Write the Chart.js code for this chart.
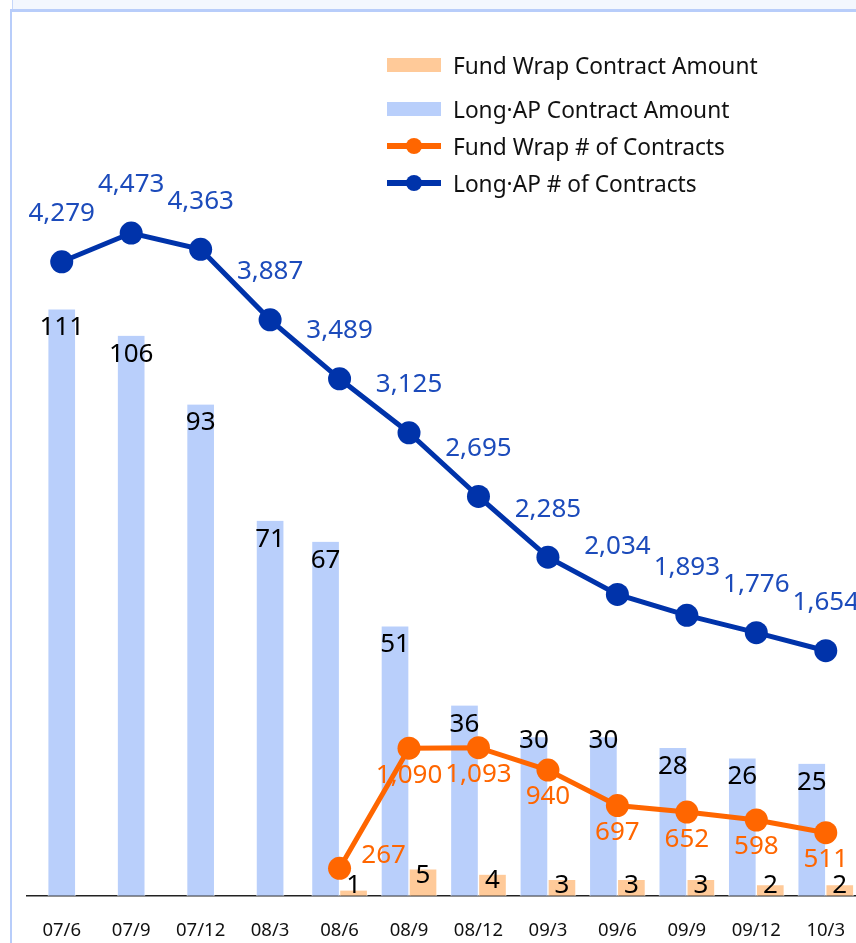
<!DOCTYPE html>
<html>
<head>
<meta charset="utf-8">
<script src="https://cdn.jsdelivr.net/npm/chart.js@4.4.1/dist/chart.umd.min.js"></script>
<style>
  html, body { margin: 0; padding: 0; background: #fff; overflow: hidden; }
  body { width: 856px; height: 943px; position: relative; font-family: "Noto Sans", sans-serif; }
  .band { position: absolute; left: 12px; top: 0; width: 844px; height: 9px; background: #f3f7fe; border-left: 1px solid #c6d7fb; }
  .frame { position: absolute; left: 10px; top: 9px; width: 846px; height: 934px; border-top: 3px solid #b8cdfa; border-left: 2px solid #b8cdfa; box-sizing: border-box; }
  .wrap { position: absolute; left: 0; top: 0; width: 872px; height: 968px; }
  #legend { position: absolute; left: 387px; top: 0; }
  .item { position: absolute; left: 0; height: 30px; width: 380px; display: flex; align-items: center; white-space: nowrap; font-size: 22.7px; color: #111; }
  .sw { position: relative; width: 54px; height: 30px; margin-right: 12px; flex: none; }
  .sw .bar { position: absolute; left: 0; right: 0; top: 8px; height: 14px; }
  .sw .ln { position: absolute; left: 0; right: 0; top: 12px; height: 6px; }
  .sw .pt { position: absolute; left: 19px; top: 7px; width: 16px; height: 16px; border-radius: 50%; }
</style>
</head>
<body>
<div class="band"></div>
<div class="frame"></div>
<div class="wrap"><canvas id="chart"></canvas></div>
<div id="legend"></div>
<script>
"use strict";

// quarters on the x axis
const periods = ['07/6', '07/9', '07/12', '08/3', '08/6', '08/9', '08/12', '09/3', '09/6', '09/9', '09/12', '10/3'];

// contract amounts (bars)
const longApAmount = [111, 106, 93, 71, 67, 51, 36, 30, 30, 28, 26, 25];
const fundWrapAmount = [null, null, null, null, 1, 5, 4, 3, 3, 3, 2, 2];

// number of contracts (lines)
const longApContracts = [4279, 4473, 4363, 3887, 3489, 3125, 2695, 2285, 2034, 1893, 1776, 1654];
const fundWrapContracts = [null, null, null, null, 267, 1090, 1093, 940, 697, 652, 598, 511];

const BLUE_LINE = '#0033aa';
const BLUE_TEXT = '#1c4bbb';
const ORANGE = '#ff6600';
const BLUE_BAR = '#b9cffb';
const ORANGE_BAR = '#ffca99';
const FONT = '"Noto Sans", sans-serif';

const fmt = v => v.toLocaleString('en-US');

// draws the value next to every bar and point
const valueLabels = {
  id: 'valueLabels',
  afterDatasetsDraw(chart) {
    const ctx = chart.ctx;
    const base = chart.chartArea.bottom;
    ctx.save();
    ctx.font = '26px ' + FONT;
    ctx.textAlign = 'center';
    ctx.textBaseline = 'alphabetic';
    chart.data.datasets.forEach((ds, i) => {
      const meta = chart.getDatasetMeta(i);
      const lab = ds.valueLabel;
      let first = true;
      meta.data.forEach((el, j) => {
        const v = ds.data[j];
        if (v === null || v === undefined) return;
        let x = el.x, cy;
        if (lab.where === 'inside') {
          cy = el.y + 16.5 - (lab.lift[j] || 0);
        } else if (lab.where === 'bartop') {
          cy = Math.min(el.y + 4, base - 12);
        } else if (lab.where === 'above') {
          cy = el.y - 50;
        } else {
          cy = el.y + 25;
          if (first) { x += 44; cy = el.y - 15; }
        }
        first = false;
        ctx.fillStyle = lab.color;
        ctx.fillText(fmt(v), x, cy + 9.4);
      });
    });
    ctx.restore();
  }
};

const chart = new Chart(document.getElementById('chart'), {
  data: {
    labels: periods,
    datasets: [
      {
        type: 'line', label: 'Fund Wrap # of Contracts', data: fundWrapContracts, yAxisID: 'yFund',
        borderColor: ORANGE, backgroundColor: ORANGE, borderWidth: 5, pointRadius: 11.5,
        pointBackgroundColor: ORANGE, pointBorderWidth: 0, order: 0,
        valueLabel: { where: 'below', color: ORANGE }
      },
      {
        type: 'line', label: 'Long·AP # of Contracts', data: longApContracts, yAxisID: 'yCount',
        borderColor: BLUE_LINE, backgroundColor: BLUE_LINE, borderWidth: 5, pointRadius: 11.5,
        pointBackgroundColor: BLUE_LINE, pointBorderWidth: 0, order: 0,
        valueLabel: { where: 'above', color: BLUE_TEXT }
      },
      {
        type: 'bar', label: 'Long·AP Contract Amount', data: longApAmount, yAxisID: 'yAmount',
        backgroundColor: BLUE_BAR, borderColor: '#ffffff', borderWidth: { left: 1, right: 1 },
        borderSkipped: 'start', order: 1,
        valueLabel: { where: 'inside', color: '#000', lift: { 7: 15, 8: 15 } }
      },
      {
        type: 'bar', label: 'Fund Wrap Contract Amount', data: fundWrapAmount, yAxisID: 'yAmount',
        backgroundColor: ORANGE_BAR, borderColor: '#ffffff', borderWidth: { left: 1, right: 1 },
        borderSkipped: 'start', order: 1,
        valueLabel: { where: 'bartop', color: '#000' }
      }
    ]
  },
  options: {
    responsive: true,
    maintainAspectRatio: false,
    animation: false,
    events: [],
    datasets: { bar: { skipNull: true, barThickness: 28 } },
    layout: { padding: { left: 27, right: 2, top: 180, bottom: 2 } },
    scales: {
      x: {
        grid: { display: false, drawTicks: false },
        border: { display: true, color: '#222', width: 1.5 },
        ticks: { color: '#111', padding: 24, font: { family: FONT, size: 18.5 } }
      },
      yAmount: { display: false, min: 0, max: 135.5 },
      yCount: { display: false, min: 0, max: 4831 },
      yFund: { display: false, min: 79, max: 4980 }
    },
    plugins: {
      legend: { display: false },
      tooltip: { enabled: false }
    }
  },
  plugins: [valueLabels]
});

// html legend built from the datasets
const legendOrder = ['Fund Wrap Contract Amount', 'Long·AP Contract Amount', 'Fund Wrap # of Contracts', 'Long·AP # of Contracts'];
const legendTops = [50, 94, 131, 168];
const legendEl = document.getElementById('legend');
legendOrder.forEach((name, k) => {
  const ds = chart.data.datasets.find(d => d.label === name);
  const item = document.createElement('div');
  item.className = 'item';
  item.style.top = legendTops[k] + 'px';
  const sw = document.createElement('div');
  sw.className = 'sw';
  if (ds.type === 'bar') {
    sw.innerHTML = '<div class="bar" style="background:' + ds.backgroundColor + '"></div>';
  } else {
    sw.innerHTML = '<div class="ln" style="background:' + ds.borderColor + '"></div>' +
      '<div class="pt" style="background:' + ds.borderColor + '"></div>';
  }
  const txt = document.createElement('span');
  txt.textContent = name;
  item.appendChild(sw);
  item.appendChild(txt);
  legendEl.appendChild(item);
});
</script>
</body>
</html>
